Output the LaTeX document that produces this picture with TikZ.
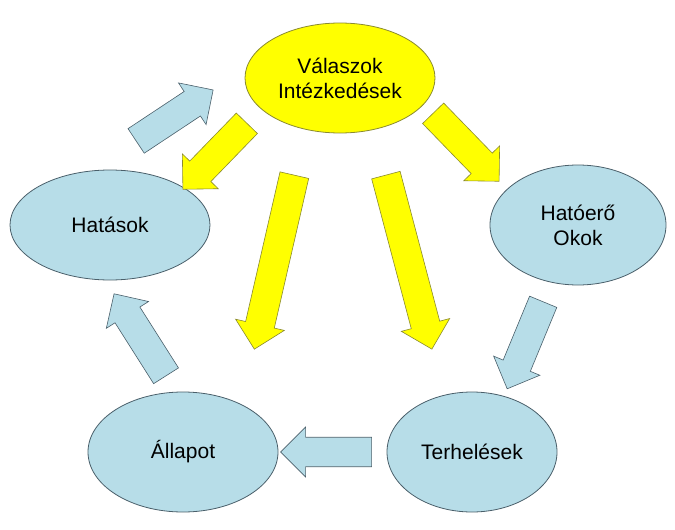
\documentclass[tikz,border=0pt]{standalone}
\usepackage{fontspec}
\setmainfont{Liberation Sans}
\usetikzlibrary{shapes.arrows,shapes.geometric,calc}
\definecolor{sky}{HTML}{B7DDE8}
\definecolor{skyline}{HTML}{4A5F6A}
\definecolor{lemon}{HTML}{FFFF00}
\definecolor{lemonline}{HTML}{8A8A30}
\tikzset{
  blob/.style={ellipse, draw=skyline, fill=sky, line width=0.8pt, align=center, font=\fontsize{21}{25}\selectfont},
  yblob/.style={blob, draw=lemonline, fill=lemon},
  fat/.style={single arrow, draw=skyline, fill=sky, line width=0.6pt, minimum width=50pt, single arrow head extend=10pt, single arrow head indent=0pt, inner xsep=0pt, inner ysep=14pt, outer sep=0pt},
  yfat/.style={fat, draw=lemonline, fill=lemon}
}
\newcommand{\fatarrow}[3]{%
  \path let \p1=($(#3)-(#2)$), \n1={veclen(\x1,\y1)} in
    (#2) -- (#3) node[midway, sloped, allow upside down, #1, minimum height=\n1] {};}
\begin{document}
\begin{tikzpicture}[x=1pt,y=-1pt]
\useasboundingbox (0,0) rectangle (675,530);

\node[yblob, minimum width=190pt, minimum height=110pt] (resp) at (340,78) {Válaszok\\Intézkedések};
\node[blob, minimum width=200pt, minimum height=110pt] (hat) at (110,225) {Hatások};
\node[blob, minimum width=176pt, minimum height=120pt] (ok) at (578,225) {Hatóerő\\Okok};
\node[blob, minimum width=190pt, minimum height=120pt] (all) at (183,452) {Állapot};
\node[blob, minimum width=170pt, minimum height=120pt] (ter) at (472,452) {Terhelések};

% yellow arrows
\coordinate (y1a) at (252,118); \coordinate (y1b) at (188,184);
\coordinate (y2a) at (296,168); \coordinate (y2b) at (256,342);
\coordinate (y3a) at (384,168); \coordinate (y3b) at (430,342);
\coordinate (y4a) at (428,108); \coordinate (y4b) at (494,176);
\fatarrow{yfat}{y1a}{y1b}
\fatarrow{yfat}{y2a}{y2b}
\fatarrow{yfat}{y3a}{y3b}
\fatarrow{yfat}{y4a}{y4b}

% blue arrows
\coordinate (b1a) at (130,145); \coordinate (b1b) at (207,94);
\coordinate (b2a) at (546,295); \coordinate (b2b) at (510,382);
\coordinate (b3a) at (379,452); \coordinate (b3b) at (288,452);
\coordinate (b4a) at (170,382); \coordinate (b4b) at (118,300);
\fatarrow{fat}{b1a}{b1b}
\fatarrow{fat}{b2a}{b2b}
\fatarrow{fat}{b3a}{b3b}
\fatarrow{fat}{b4a}{b4b}

\end{tikzpicture}
\end{document}
